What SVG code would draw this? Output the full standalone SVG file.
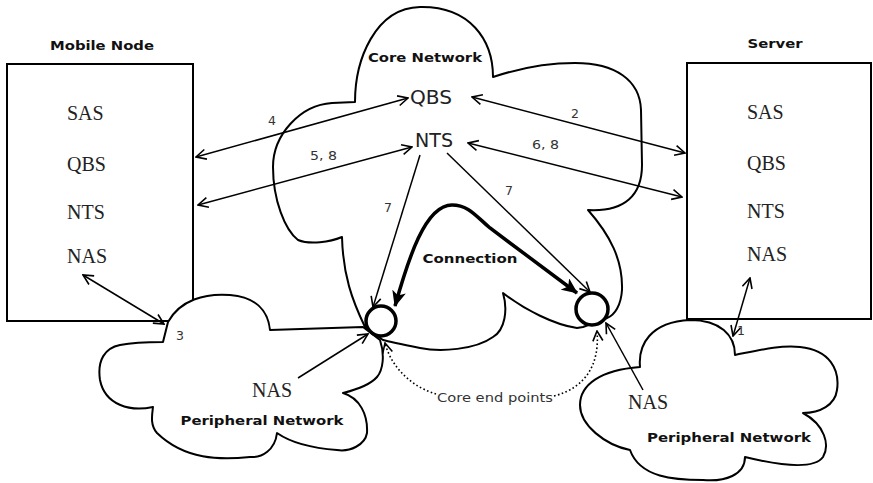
<svg xmlns="http://www.w3.org/2000/svg" width="873" height="483" viewBox="0 0 873 483">
<style>
.bg{fill:#fff}
.box{fill:#fff;stroke:#000;stroke-width:2}
.cloud{fill:#fff;stroke:#000;stroke-width:2;stroke-linejoin:round}
.ep{fill:#fff;stroke:#000;stroke-width:3.5}
.ln{fill:none;stroke:#000;stroke-width:1.5}
.thick{fill:none;stroke:#000;stroke-width:3.5}
.dot{fill:none;stroke:#000;stroke-width:1.6;stroke-dasharray:1.6 2.4}
.ttl{font-family:"DejaVu Sans",sans-serif;font-weight:bold;font-size:12.5px;fill:#111;text-anchor:middle}
.ser{font-family:"Liberation Serif",serif;font-size:20px;fill:#222}
.san{font-family:"DejaVu Sans",sans-serif;font-size:19px;fill:#222}
.num{font-family:"DejaVu Sans",sans-serif;font-size:12.5px;fill:#333}
</style>
<defs>
<marker id="ah" viewBox="0 0 12 12" refX="11" refY="6" markerWidth="12" markerHeight="12" markerUnits="userSpaceOnUse" orient="auto-start-reverse">
<path d="M1,1 L11,6 L1,11" fill="none" stroke="#000" stroke-width="1.6"/>
</marker>
<marker id="big" viewBox="0 0 16 14" refX="15" refY="7" markerWidth="16" markerHeight="14" markerUnits="userSpaceOnUse" orient="auto-start-reverse">
<path d="M0,0 L16,7 L0,14 L4,7 Z" fill="#000"/>
</marker>
</defs>
<rect class="bg" x="0" y="0" width="873" height="483"/>

<g id="mobile-node">
<rect class="box" x="7" y="64" width="186" height="257"/>
<text class="ttl" x="102" y="50" textLength="104" lengthAdjust="spacingAndGlyphs">Mobile Node</text>
<text class="ser" x="67" y="120">SAS</text>
<text class="ser" x="67" y="171">QBS</text>
<text class="ser" x="67" y="219">NTS</text>
<text class="ser" x="67" y="263">NAS</text>
</g>

<g id="server">
<rect class="box" x="687" y="63" width="184" height="256"/>
<text class="ttl" x="775" y="48" textLength="55" lengthAdjust="spacingAndGlyphs">Server</text>
<text class="ser" x="747" y="119">SAS</text>
<text class="ser" x="747" y="170">QBS</text>
<text class="ser" x="747" y="218">NTS</text>
<text class="ser" x="747" y="261">NAS</text>
</g>

<g id="core-network">
<path class="cloud" d="M332,103 L355,102 C355,60 375,8 420,7 C470,6 493,40 493,77 C520,68 545,63 575,63 C615,63 640,80 641,110 L642,165 C642,195 625,212 588,210 C610,235 623,260 622,290 C621,305 615,315 607,318 L583,327 L577,328 C555,325 525,310 503,293 C508,310 505,330 493,337 C475,350 440,352 420,348 C405,345 390,342 383,340 L365,327 C352,300 343,275 342,237 C330,242 310,245 298,240 C285,230 273,200 273,167 C273,135 300,105 332,103 Z"/>
<text class="ttl" x="425" y="62" textLength="114" lengthAdjust="spacingAndGlyphs">Core Network</text>
<text class="san" x="410" y="104" textLength="42" lengthAdjust="spacingAndGlyphs">QBS</text>
<text class="san" x="415" y="147" textLength="38" lengthAdjust="spacingAndGlyphs">NTS</text>
<text class="ttl" x="470" y="263" textLength="95" lengthAdjust="spacingAndGlyphs">Connection</text>
</g>

<g id="peripheral-left">
<path class="cloud" d="M168,322 C180,300 205,293 230,295 C255,297 268,310 270,330 L363,327 L380,340 C385,355 383,370 377,377 C370,385 355,390 343,393 C360,398 368,415 367,433 C365,445 350,452 337,450 C310,448 290,442 277,433 C275,450 262,458 250,457 C220,460 185,460 157,433 C150,425 152,415 153,407 C130,412 105,405 100,380 C97,360 105,348 120,345 C135,342 150,342 163,342 Z"/>
<text class="ser" x="252" y="397">NAS</text>
<text class="ttl" x="262" y="425" textLength="163" lengthAdjust="spacingAndGlyphs">Peripheral Network</text>
</g>

<g id="peripheral-right">
<path class="cloud" d="M640,367 C638,345 650,322 690,320 C720,320 735,335 735,355 C760,350 780,345 800,347 C830,350 840,370 837,390 C835,405 820,413 803,413 C825,425 830,445 823,457 C815,468 790,468 745,457 C745,475 725,482 703,480 C675,480 640,478 630,450 C605,445 580,425 580,405 C580,385 600,370 640,367 Z"/>
<text class="ser" x="628" y="409">NAS</text>
<text class="ttl" x="729" y="442" textLength="164" lengthAdjust="spacingAndGlyphs">Peripheral Network</text>
</g>

<g id="endpoint-left"><circle class="ep" cx="381" cy="321" r="15"/></g>
<g id="endpoint-right"><circle class="ep" cx="592" cy="309" r="16"/></g>

<g id="connectors">
<line class="ln" x1="196" y1="157" x2="408" y2="98" marker-start="url(#ah)" marker-end="url(#ah)"/>
<line class="ln" x1="198" y1="205" x2="412" y2="147" marker-start="url(#ah)" marker-end="url(#ah)"/>
<line class="ln" x1="472" y1="97" x2="685" y2="153" marker-start="url(#ah)" marker-end="url(#ah)"/>
<line class="ln" x1="468" y1="143" x2="682" y2="197" marker-start="url(#ah)" marker-end="url(#ah)"/>
<line class="ln" x1="420" y1="155" x2="373" y2="307" marker-end="url(#ah)"/>
<line class="ln" x1="447" y1="153" x2="590" y2="292" marker-end="url(#ah)"/>
<line class="ln" x1="298" y1="378" x2="368" y2="334" marker-end="url(#ah)"/>
<line class="ln" x1="643" y1="390" x2="606" y2="323" marker-end="url(#ah)"/>
<line class="ln" x1="83" y1="275" x2="164" y2="324" marker-start="url(#ah)" marker-end="url(#ah)"/>
<line class="ln" x1="750" y1="278" x2="733" y2="336" marker-start="url(#ah)" marker-end="url(#ah)"/>
<path class="thick" d="M395,306 C408,260 425,205 452,205 C468,205 475,215 490,228 L577,293" marker-start="url(#big)" marker-end="url(#big)"/>
<path class="dot" d="M436,394 C415,388 392,370 385,343" marker-end="url(#ah)"/>
<path class="dot" d="M554,396 C585,388 600,365 597,331" marker-end="url(#ah)"/>
<text class="num" x="268" y="125">4</text>
<text class="num" x="310" y="160" textLength="27" lengthAdjust="spacingAndGlyphs">5, 8</text>
<text class="num" x="571" y="118">2</text>
<text class="num" x="532" y="149" textLength="27" lengthAdjust="spacingAndGlyphs">6, 8</text>
<text class="num" x="384" y="212">7</text>
<text class="num" x="505" y="195">7</text>
<text class="num" x="176" y="340">3</text>
<text class="num" x="737" y="335">1</text>
<text class="num" x="437" y="402" textLength="116" lengthAdjust="spacingAndGlyphs">Core end points</text>
</g>
</svg>
